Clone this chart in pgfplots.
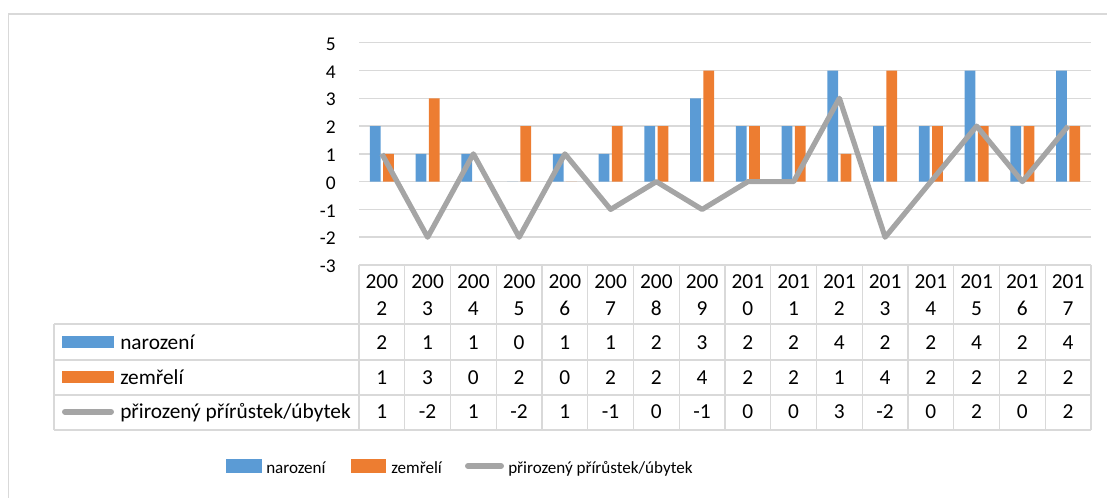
\documentclass[border=0pt]{standalone}
\usepackage{pgfplots}
\pgfplotsset{compat=1.18}
\usepackage{pgfplotstable}
\usepackage{fontspec}
\setmainfont{Carlito}
\definecolor{cblue}{HTML}{5B9BD5}
\definecolor{corange}{HTML}{ED7D31}
\definecolor{cgray}{HTML}{A5A5A5}
\definecolor{cgrid}{HTML}{D9D9D9}
\pgfplotstableread{
i year nar zem pri
0 2002 2 1 1
1 2003 1 3 -2
2 2004 1 0 1
3 2005 0 2 -2
4 2006 1 0 1
5 2007 1 2 -1
6 2008 2 2 0
7 2009 3 4 -1
8 2010 2 2 0
9 2011 2 2 0
10 2012 4 1 3
11 2013 2 4 -2
12 2014 2 2 0
13 2015 4 2 2
14 2016 2 2 0
15 2017 4 2 2
}\datatable
\newcommand\tabfont{\fontsize{16pt}{18pt}\selectfont}
\newcommand\legfont{\fontsize{12.8pt}{15pt}\selectfont}
\begin{document}
\begin{tikzpicture}
\path[use as bounding box] (0,0) rectangle (830.25pt,372.75pt);
\begin{axis}[
  at={(269.25pt,174pt)}, anchor=south west,
  scale only axis, width=549pt, height=166.7pt,
  xmin=-0.5, xmax=15.5, ymin=-3, ymax=5,
  axis line style={draw=none},
  major tick length=0pt,
  xtick=\empty,
  ytick={-3,-2,-1,0,1,2,3,4,5},
  yticklabels={-3,-2,-1,0,1,2,3,4,5},
  ymajorgrids,
  grid style={cgrid, line width=1.1pt},
  yticklabel style={font=\fontsize{14.6pt}{16pt}\selectfont, inner sep=0pt, anchor=east, xshift=-17.25pt, yshift=-1pt},
]
\addplot[ybar, bar width=8pt, bar shift=-5pt, fill=cblue, draw=none] table[x=i,y=nar]{\datatable};
\addplot[ybar, bar width=8pt, bar shift=5pt, fill=corange, draw=none] table[x=i,y=zem]{\datatable};
\addplot[cgray, line width=3.9pt, line join=round, mark=none] table[x=i,y=pri]{\datatable};
\end{axis}
\begin{scope}[yshift=372.75pt]
\begin{scope}[x=0.75pt,y=-0.75pt]
  % outer frame
  \draw[cgrid, line width=1.1pt] (8.5,700) -- (8.5,14) -- (1300,14);
  % table grid
  \foreach \k in {0,...,16} \draw[cgrid, line width=1.1pt] ({359+45.75*\k},265) -- ({359+45.75*\k},430);
  \draw[cgrid, line width=1.1pt] (359,265) -- (1091,265);
  \foreach \yy in {324,360,395,430} \draw[cgrid, line width=1.1pt] (54,\yy) -- (1091,\yy);
  \draw[cgrid, line width=1.1pt] (54,324) -- (54,430);
  % header
  \foreach \a/\b [count=\k from 0] in {200/2,200/3,200/4,200/5,200/6,200/7,200/8,200/9,201/0,201/1,201/2,201/3,201/4,201/5,201/6,201/7}{
    \node[anchor=base, inner sep=0pt, font=\tabfont] at ({359+45.75*(\k+0.5)},288.3) {\a};
    \node[anchor=base, inner sep=0pt, font=\tabfont] at ({359+45.75*(\k+0.5)},315) {\b};
  }
  \foreach \v [count=\k from 0] in {2,1,1,0,1,1,2,3,2,2,4,2,2,4,2,4}
    \node[anchor=base, inner sep=0pt, font=\tabfont] at ({359+45.75*(\k+0.5)},349.3) {\v};
  \foreach \v [count=\k from 0] in {1,3,0,2,0,2,2,4,2,2,1,4,2,2,2,2}
    \node[anchor=base, inner sep=0pt, font=\tabfont] at ({359+45.75*(\k+0.5)},384) {\v};
  \foreach \v [count=\k from 0] in {1,-2,1,-2,1,-1,0,-1,0,0,3,-2,0,2,0,2}
    \node[anchor=base, inner sep=0pt, font=\tabfont] at ({359+45.75*(\k+0.5)},418.3) {\v};
  % row labels
  \fill[cblue] (62,336) rectangle (114,348);
  \node[anchor=base west, inner sep=0pt, font=\tabfont] at (120,349.3) {narození};
  \fill[corange] (62,371) rectangle (114,383);
  \node[anchor=base west, inner sep=0pt, font=\tabfont] at (120,384) {zemřelí};
  \draw[cgray, line width=4.5pt, line cap=round] (65,411.7) -- (111,411.7);
  \node[anchor=base west, inner sep=0pt, font=\tabfont] at (120,418.3) {přirozený přírůstek/úbytek};
  % bottom legend
  \fill[cblue] (226,459) rectangle (262,473);
  \node[anchor=base west, inner sep=0pt, font=\legfont] at (266,473) {narození};
  \fill[corange] (351,459) rectangle (386,473);
  \node[anchor=base west, inner sep=0pt, font=\legfont] at (391,473) {zemřelí};
  \draw[cgray, line width=4.5pt, line cap=round] (468,466) -- (501,466);
  \node[anchor=base west, inner sep=0pt, font=\legfont] at (508,473) {přirozený přírůstek/úbytek};
\end{scope}
\end{scope}
\end{tikzpicture}
\end{document}
